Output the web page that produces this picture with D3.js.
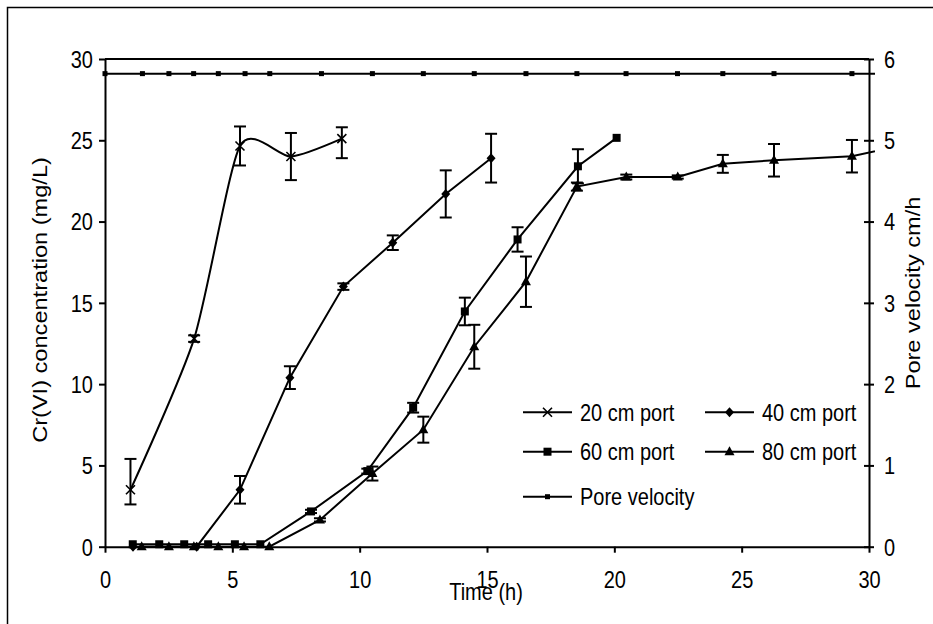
<!DOCTYPE html>
<html><head><meta charset="utf-8">
<script src="https://cdn.jsdelivr.net/npm/d3@7"></script>
<style>
html,body{margin:0;padding:0;background:#fff;}
svg{display:block;}
text{font-family:"Liberation Sans",Arial,sans-serif;fill:#000;}
</style></head>
<body>
<svg id="chart" width="933" height="624"></svg>
<script>
// ---- data ----
const t20 = [1.0, 3.5, 5.3, 7.3, 9.3];
const c20 = [3.5, 12.8, 24.65, 24.0, 25.1];
const e20up = [1.9, 0.2, 1.2, 1.45, 0.7];
const e20dn = [0.9, 0.2, 1.2, 1.45, 1.2];

const t40 = [1.1, 3.6, 5.3, 7.26, 9.36, 11.3, 13.38, 15.16];
const c40 = [0, 0, 3.5, 10.4, 16.0, 18.7, 21.7, 23.9];
const e40 = [0, 0, 0.85, 0.7, 0.2, 0.45, 1.45, 1.5];

const t60 = [1.09, 2.13, 3.11, 4.05, 5.1, 6.1, 8.09, 10.3, 12.1, 14.13, 16.2, 18.57, 20.09];
const c60 = [0.15, 0.15, 0.15, 0.15, 0.15, 0.15, 2.17, 4.65, 8.55, 14.47, 18.9, 23.4, 25.15];
const e60 = [0, 0, 0, 0, 0, 0, 0.1, 0.15, 0.3, 0.85, 0.75, 1.05, 0];

const t80 = [1.44, 2.51, 3.49, 4.45, 5.46, 6.45, 8.44, 10.5, 12.5, 14.5, 16.53, 18.53, 20.47, 22.49, 24.26, 26.27, 29.33, 31.8];
const c80 = [0, 0, 0, 0, 0, 0, 1.65, 4.5, 7.2, 12.3, 16.3, 22.15, 22.74, 22.74, 23.55, 23.77, 24.02, 24.85];
const e80 = [0, 0, 0, 0, 0, 0, 0.1, 0.43, 0.8, 1.35, 1.55, 0.25, 0.15, 0.1, 0.55, 1.0, 1.0, 0];

const tPore = [0, 1.47, 2.51, 3.48, 4.45, 5.5, 6.47, 8.5, 10.5, 12.5, 14.5, 16.53, 18.53, 20.46, 22.48, 24.26, 26.27, 29.33, 31.3];
const vPore = [5.82, 5.82, 5.82, 5.82, 5.82, 5.82, 5.82, 5.82, 5.82, 5.82, 5.82, 5.82, 5.82, 5.82, 5.82, 5.82, 5.82, 5.82, 5.82];

const xTicks = [0, 5, 10, 15, 20, 25, 30];
const yTicks = [0, 5, 10, 15, 20, 25, 30];
const y2Ticks = [0, 1, 2, 3, 4, 5, 6];
const legendLabels = ["20 cm port", "40 cm port", "60 cm port", "80 cm port", "Pore velocity"];

// ---- layout ----
const SY = 1.18; // vertical stretch of glyphs
const FS = 20;
const svg = d3.select("#chart");
const x = d3.scaleLinear().domain([0, 30]).range([105, 869]);
const y = d3.scaleLinear().domain([0, 30]).range([546.7, 59]);
const y2 = d3.scaleLinear().domain([0, 6]).range([546.7, 59]);

// outer frame (only left/top visible)
svg.append("path").attr("d", "M7.5,624 V7.5 H933").attr("fill", "none").attr("stroke", "#000").attr("stroke-width", 1.5);

// top border of plot area
svg.append("line").attr("x1", x(0)).attr("x2", x(30)).attr("y1", y(30)).attr("y2", y(30))
  .attr("stroke", "#000").attr("stroke-width", 2);

// axes
const gx = svg.append("g").attr("transform", `translate(0,${y(0)})`)
  .call(d3.axisBottom(x).tickValues(xTicks).tickSize(6).tickSizeOuter(0).tickFormat(d3.format("d")));
const gy = svg.append("g").attr("transform", `translate(${x(0)},0)`)
  .call(d3.axisLeft(y).tickValues(yTicks).tickSize(6).tickSizeOuter(0).tickFormat(d3.format("d")));
const gy2 = svg.append("g").attr("transform", `translate(${x(30)},0)`)
  .call(d3.axisRight(y2).tickValues(y2Ticks).tickSize(5).tickSizeOuter(0).tickFormat(d3.format("d")));
gy2.selectAll(".tick line").attr("x1", -5);
[gx, gy, gy2].forEach(g => {
  g.select(".domain").attr("stroke", "#000").attr("stroke-width", 2);
  g.selectAll(".tick line").attr("stroke", "#000").attr("stroke-width", 2);
  g.selectAll("text").attr("font-size", FS).attr("font-family", '"Liberation Sans",Arial,sans-serif').attr("fill", "#000");
});
gx.selectAll(".tick text").attr("y", 0).attr("dy", 0)
  .attr("transform", `translate(0,41.3) scale(1,${SY})`);
gy.selectAll(".tick text").attr("x", 0).attr("dy", 0)
  .attr("transform", `translate(-12,8.4) scale(1,${SY})`);
gy2.selectAll(".tick text").attr("x", 0).attr("dy", 0)
  .attr("transform", `translate(15,8.4) scale(1,${SY})`);

function txt(str, tx, ty, anchor, rot) {
  const t = svg.append("text").text(str).attr("font-size", FS).attr("text-anchor", anchor || "start");
  if (rot) t.attr("transform", `translate(${tx},${ty}) rotate(-90) scale(${SY},1)`);
  else t.attr("transform", `translate(${tx},${ty}) scale(1,${SY})`);
  return t;
}
txt("Time (h)", 486, 600, "middle");
txt("Cr(VI) concentration (mg/L)", 47, 300, "middle", true);
txt("Pore velocity cm/h", 920, 293, "middle", true);

// clip for series
svg.append("clipPath").attr("id", "clip").append("rect")
  .attr("x", 100).attr("y", 0).attr("width", 775).attr("height", 624);
const plot = svg.append("g").attr("clip-path", "url(#clip)");

const zip = (ts, vs) => ts.map((t, i) => [t, vs[i]]);
const lineStraight = d3.line().x(d => x(d[0])).y(d => y(d[1]));
const lineSmooth = d3.line().x(d => x(d[0])).y(d => y(d[1])).curve(d3.curveCardinal.tension(0.3));
const linePore = d3.line().x(d => x(d[0])).y(d => y2(d[1]));

function drawLine(path, data) {
  plot.append("path").attr("d", path(data)).attr("fill", "none").attr("stroke", "#000").attr("stroke-width", 2);
}
function errBars(ts, vs, up, dn) {
  ts.forEach((t, i) => {
    const u = up[i], d = dn[i];
    if (!u && !d) return;
    const cx = x(t), y1 = y(vs[i] + u), y0 = y(vs[i] - d);
    plot.append("line").attr("x1", cx).attr("x2", cx).attr("y1", y1).attr("y2", y0).attr("stroke", "#000").attr("stroke-width", 2);
    plot.append("line").attr("x1", cx - 6).attr("x2", cx + 6).attr("y1", y1).attr("y2", y1).attr("stroke", "#000").attr("stroke-width", 2);
    plot.append("line").attr("x1", cx - 6).attr("x2", cx + 6).attr("y1", y0).attr("y2", y0).attr("stroke", "#000").attr("stroke-width", 2);
  });
}
function marker(g, type, cx, cy) {
  if (type === "x") {
    g.append("path").attr("d", `M${cx-4.5},${cy-4.5}L${cx+4.5},${cy+4.5}M${cx-4.5},${cy+4.5}L${cx+4.5},${cy-4.5}`)
      .attr("stroke", "#000").attr("stroke-width", 1.6).attr("fill", "none");
  } else if (type === "diamond") {
    g.append("path").attr("d", `M${cx},${cy-5}L${cx+4.5},${cy}L${cx},${cy+5}L${cx-4.5},${cy}Z`).attr("fill", "#000");
  } else if (type === "square") {
    g.append("rect").attr("x", cx - 4).attr("y", cy - 4).attr("width", 8).attr("height", 8).attr("fill", "#000");
  } else if (type === "triangle") {
    g.append("path").attr("d", `M${cx},${cy-5.5}L${cx+5},${cy+3.5}L${cx-5},${cy+3.5}Z`).attr("fill", "#000");
  } else if (type === "small") {
    g.append("rect").attr("x", cx - 2.5).attr("y", cy - 2.5).attr("width", 5).attr("height", 5).attr("fill", "#000");
  }
}

// pore velocity
const poreData = zip(tPore, vPore);
drawLine(linePore, poreData);
poreData.forEach(d => marker(plot, "small", x(d[0]), y2(d[1])));

// 20 cm
const d20 = zip(t20, c20);
drawLine(lineSmooth, d20);
errBars(t20, c20, e20up, e20dn);
d20.forEach(d => marker(plot, "x", x(d[0]), y(d[1])));

// 40 cm
const d40 = zip(t40, c40);
drawLine(lineStraight, d40);
errBars(t40, c40, e40, e40);
d40.forEach(d => marker(plot, "diamond", x(d[0]), y(d[1])));

// 60 cm
const d60 = zip(t60, c60);
drawLine(lineStraight, d60);
errBars(t60, c60, e60, e60);
d60.forEach(d => marker(plot, "square", x(d[0]), y(d[1])));

// 80 cm
const d80 = zip(t80, c80);
drawLine(lineStraight, d80);
errBars(t80, c80, e80, e80);
d80.forEach(d => marker(plot, "triangle", x(d[0]), y(d[1])));

// legend
const legendItems = [
  {label: legendLabels[0], type: "x", lx: 523, ly: 412.3},
  {label: legendLabels[1], type: "diamond", lx: 705, ly: 412.3},
  {label: legendLabels[2], type: "square", lx: 523, ly: 451.7},
  {label: legendLabels[3], type: "triangle", lx: 705, ly: 451.7},
  {label: legendLabels[4], type: "small", lx: 523, ly: 496.7}
];
const lg = svg.append("g");
legendItems.forEach(it => {
  lg.append("line").attr("x1", it.lx).attr("x2", it.lx + 49).attr("y1", it.ly).attr("y2", it.ly)
    .attr("stroke", "#000").attr("stroke-width", 2);
  marker(lg, it.type, it.lx + 24.5, it.ly);
  lg.append("text").text(it.label).attr("font-size", FS)
    .attr("transform", `translate(${it.lx + 57},${it.ly + 8.4}) scale(1,${SY})`);
});
</script>
</body></html>
